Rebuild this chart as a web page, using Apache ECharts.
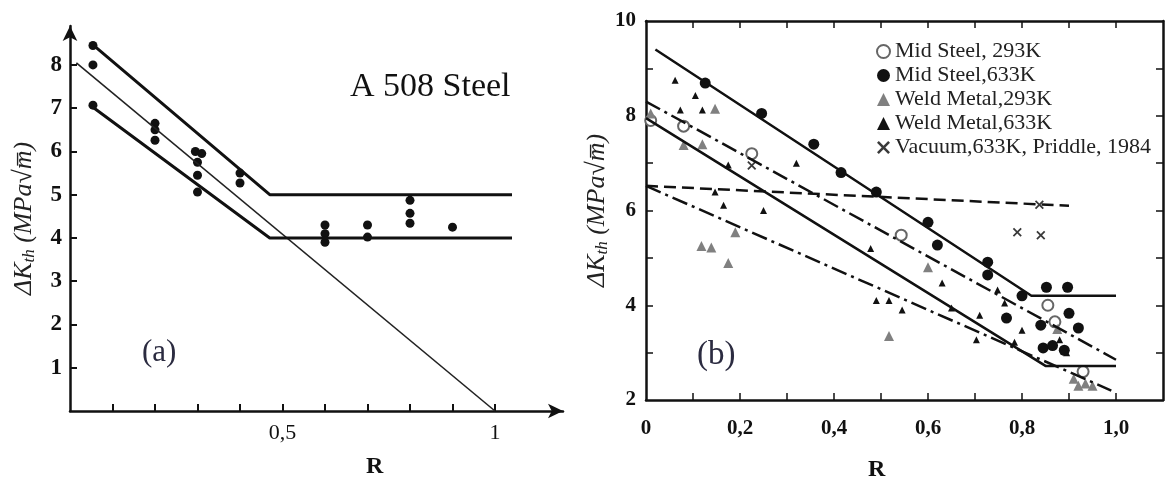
<!DOCTYPE html>
<html>
<head>
<meta charset="utf-8">
<script src="https://cdn.jsdelivr.net/npm/echarts@6/dist/echarts.min.js"></script>
<style>html,body{margin:0;padding:0;background:#fff}#c{width:1167px;height:480px}</style>
</head>
<body>
<div id="c"></div>
<script>
// ---------- Panel (a): A 508 Steel ----------
const leftPoints = [[0.054,8.45],[0.054,8.0],[0.054,7.07],[0.2,6.65],[0.2,6.5],[0.2,6.26],
  [0.295,6.0],[0.31,5.95],[0.30,5.75],[0.30,5.45],[0.30,5.06],[0.40,5.5],[0.40,5.27],
  [0.60,4.3],[0.60,4.1],[0.60,3.9],[0.70,4.3],[0.70,4.02],[0.80,4.87],[0.80,4.57],[0.80,4.34],[0.90,4.25]];
const leftUpper  = [[0.05,8.5],[0.47,5.0],[1.04,5.0]];
const leftMiddle = [[0.015,8.05],[1.0,0]];
const leftLower  = [[0.05,7.05],[0.47,4.0],[1.04,4.0]];
const leftXTicks = [0.1,0.2,0.3,0.4,0.5,0.6,0.7,0.8,0.9,1.0];
const leftXLabels = [0.5,1];
const leftYTicks = [1,2,3,4,5,6,7,8];

// ---------- Panel (b) ----------
const midSteel293 = [[0.01,7.9],[0.08,7.78],[0.225,7.2],[0.543,5.48],[0.855,4.0],[0.87,3.65],[0.93,2.6]];
const midSteel633 = [[0.126,8.69],[0.246,8.05],[0.357,7.4],[0.415,6.8],[0.49,6.39],[0.60,5.75],[0.62,5.27],
  [0.727,4.91],[0.727,4.64],[0.80,4.2],[0.767,3.73],[0.852,4.38],[0.897,4.38],[0.90,3.83],[0.84,3.58],
  [0.92,3.52],[0.845,3.1],[0.89,3.05],[0.865,3.15]];
const weld293 = [[0.01,8.05],[0.08,7.38],[0.12,7.4],[0.147,8.15],[0.118,5.25],[0.139,5.22],[0.175,4.89],
  [0.19,5.54],[0.60,4.8],[0.517,3.35],[0.91,2.45],[0.92,2.3],[0.935,2.35],[0.95,2.3],[0.875,3.5]];
const weld633 = [[0.062,8.75],[0.105,8.43],[0.073,8.12],[0.12,8.12],[0.32,7.0],[0.175,6.96],[0.165,6.11],
  [0.25,6.0],[0.147,6.39],[0.478,5.2],[0.63,4.47],[0.49,4.1],[0.517,4.1],[0.545,3.9],[0.71,3.79],
  [0.703,3.27],[0.65,3.94],[0.748,4.32],[0.763,4.05],[0.80,3.47],[0.784,3.22],[0.88,3.27],[0.895,3.0]];
const vacuum = [[0.225,6.95],[0.79,5.54],[0.84,5.48],[0.837,6.12]];
const rightLine1 = [[0.02,9.4],[0.82,4.2],[1.0,4.2]];
const rightLine2 = [[0.0,8.3],[1.0,2.85]];
const rightLine3 = [[0.0,7.95],[0.85,2.72],[1.0,2.72]];
const rightLine4 = [[0.0,6.52],[0.9,6.1]];
const rightLine5 = [[0.0,6.52],[0.99,2.2]];
const rightXTicks = [0.1,0.2,0.3,0.4,0.5,0.6,0.7,0.8,0.9,1.0];
const rightXLabels = [0,0.2,0.4,0.6,0.8,1.0];
const rightYTicks = [3,4,5,6,7,8,9];
const rightYLabels = [2,4,6,8,10];
const legendNames = ['Mid Steel, 293K','Mid Steel,633K','Weld Metal,293K','Weld Metal,633K','Vacuum,633K, Priddle, 1984'];

const FONT = '"Liberation Serif","Times New Roman",serif';
const INK = '#111';
const XPATH = 'path://M0,1.4 L1.4,0 L5,3.6 L8.6,0 L10,1.4 L6.4,5 L10,8.6 L8.6,10 L5,6.4 L1.4,10 L0,8.6 L3.6,5 Z';

const yName = '{i|ΔK}{s|th}{i| (MPa√m\u0305)}';
const yNameRich = {
  i:{fontFamily:FONT, fontStyle:'italic', fontSize:26, color:'#222'},
  s:{fontFamily:FONT, fontStyle:'italic', fontSize:17, color:'#222', verticalAlign:'bottom', padding:[10,0,0,0]}
};

const chart = echarts.init(document.getElementById('c'), null, {renderer:'canvas'});
const fmtComma = v => (Math.abs(v) < 1e-9 ? '0' : v.toFixed(1).replace('.', ','));

chart.setOption({
  animation:false,
  backgroundColor:'#fff',
  grid:[
    {left:70, top:26, width:493, height:385},
    {left:646, top:21, width:517, height:379}
  ],
  legend:{
    data:legendNames, orient:'vertical', left:871, top:35, itemWidth:13, itemHeight:13, itemGap:1,
    selectedMode:false, textStyle:{fontFamily:FONT, fontSize:22, color:'#222', lineHeight:23}
  },
  xAxis:[
    {gridIndex:0, type:'value', min:0, max:1.16, splitLine:{show:false},
      axisLine:{show:true, onZero:false, symbol:['none','arrow'], symbolSize:[11,15], lineStyle:{color:INK, width:2.5}},
      axisTick:{show:true, inside:true, length:7, customValues:leftXTicks, lineStyle:{color:INK, width:2}},
      axisLabel:{customValues:leftXLabels, formatter:v => (Math.abs(v-1)<1e-9 ? '1' : fmtComma(v)), fontFamily:FONT, fontSize:22, color:INK, margin:11}},
    {gridIndex:1, type:'value', min:0, max:1.1, position:'bottom', splitLine:{show:false},
      axisLine:{show:true, onZero:false, lineStyle:{color:INK, width:2.5}},
      axisTick:{show:true, inside:true, length:7, customValues:rightXTicks, lineStyle:{color:INK, width:1.5}},
      axisLabel:{customValues:rightXLabels, formatter:fmtComma, fontFamily:FONT, fontWeight:'bold', fontSize:21, color:INK, margin:18}},
    {gridIndex:1, type:'value', min:0, max:1.1, position:'top', splitLine:{show:false},
      axisLine:{show:true, onZero:false, lineStyle:{color:INK, width:2.5}},
      axisTick:{show:true, inside:true, length:7, customValues:rightXTicks, lineStyle:{color:INK, width:1.5}},
      axisLabel:{show:false}}
  ],
  yAxis:[
    {gridIndex:0, type:'value', min:0, max:8.9, splitLine:{show:false},
      axisLine:{show:true, onZero:false, symbol:['none','arrow'], symbolSize:[11,15], lineStyle:{color:INK, width:2.5}},
      axisTick:{show:true, inside:true, length:7, customValues:leftYTicks, lineStyle:{color:INK, width:2}},
      axisLabel:{customValues:leftYTicks, fontFamily:FONT, fontWeight:'bold', fontSize:23, color:INK, margin:8},
      name:yName, nameLocation:'middle', nameRotate:90, nameGap:32, nameTextStyle:{rich:yNameRich}},
    {gridIndex:1, type:'value', min:2, max:10, position:'left', splitLine:{show:false},
      axisLine:{show:true, onZero:false, lineStyle:{color:INK, width:2.5}},
      axisTick:{show:true, inside:true, length:7, customValues:rightYTicks, lineStyle:{color:INK, width:1.5}},
      axisLabel:{customValues:rightYLabels, fontFamily:FONT, fontWeight:'bold', fontSize:21, color:INK, margin:10},
      name:yName, nameLocation:'middle', nameRotate:90, nameGap:34, nameTextStyle:{rich:yNameRich}},
    {gridIndex:1, type:'value', min:2, max:10, position:'right', splitLine:{show:false},
      axisLine:{show:true, onZero:false, lineStyle:{color:INK, width:2.5}},
      axisTick:{show:true, inside:true, length:7, customValues:rightYTicks, lineStyle:{color:INK, width:1.5}},
      axisLabel:{show:false}}
  ],
  graphic:[
    {type:'text', left:350, top:70, style:{text:'A 508 Steel', font:'34px '+FONT, fill:INK}},
    {type:'text', left:142, top:337, style:{text:'(a)', font:'31px '+FONT, fill:'#2b2b40'}},
    {type:'text', left:697, top:339, style:{text:'(b)', font:'33px '+FONT, fill:'#2b2b40'}},
    {type:'text', left:366, top:455, style:{text:'R', font:'bold 24px '+FONT, fill:INK}},
    {type:'text', left:868, top:458, style:{text:'R', font:'bold 24px '+FONT, fill:INK}}
  ],
  series:[
    {type:'line', xAxisIndex:0, yAxisIndex:0, data:leftUpper, symbol:'none', lineStyle:{color:INK, width:3}, silent:true},
    {type:'line', xAxisIndex:0, yAxisIndex:0, data:leftMiddle, symbol:'none', lineStyle:{color:'#222', width:1.6}, silent:true},
    {type:'line', xAxisIndex:0, yAxisIndex:0, data:leftLower, symbol:'none', lineStyle:{color:INK, width:3}, silent:true},
    {type:'scatter', xAxisIndex:0, yAxisIndex:0, data:leftPoints, symbol:'circle', symbolSize:9, itemStyle:{color:INK, opacity:1}},

    {type:'line', xAxisIndex:1, yAxisIndex:1, data:rightLine1, symbol:'none', lineStyle:{color:INK, width:2.5}, silent:true},
    {type:'line', xAxisIndex:1, yAxisIndex:1, data:rightLine2, symbol:'none', lineStyle:{color:INK, width:2.5, type:[16,5,3,5]}, silent:true},
    {type:'line', xAxisIndex:1, yAxisIndex:1, data:rightLine3, symbol:'none', lineStyle:{color:INK, width:2.5}, silent:true},
    {type:'line', xAxisIndex:1, yAxisIndex:1, data:rightLine4, symbol:'none', lineStyle:{color:INK, width:2.5, type:[12,6]}, silent:true},
    {type:'line', xAxisIndex:1, yAxisIndex:1, data:rightLine5, symbol:'none', lineStyle:{color:INK, width:2.5, type:[16,5,3,5]}, silent:true},

    {name:legendNames[0], type:'scatter', xAxisIndex:1, yAxisIndex:1, data:midSteel293, symbol:'circle', symbolSize:11,
      itemStyle:{color:'#fff', borderColor:'#666', borderWidth:2, opacity:1}},
    {name:legendNames[1], type:'scatter', xAxisIndex:1, yAxisIndex:1, data:midSteel633, symbol:'circle', symbolSize:11,
      itemStyle:{color:INK, opacity:1}},
    {name:legendNames[2], type:'scatter', xAxisIndex:1, yAxisIndex:1, data:weld293, symbol:'triangle', symbolSize:10,
      itemStyle:{color:'#808080', opacity:1}},
    {name:legendNames[3], type:'scatter', xAxisIndex:1, yAxisIndex:1, data:weld633, symbol:'triangle', symbolSize:7,
      itemStyle:{color:INK, opacity:1}},
    {name:legendNames[4], type:'scatter', xAxisIndex:1, yAxisIndex:1, data:vacuum, symbol:XPATH, symbolSize:9,
      itemStyle:{color:'#3a3a3a', opacity:1}}
  ]
});
</script>
</body>
</html>
